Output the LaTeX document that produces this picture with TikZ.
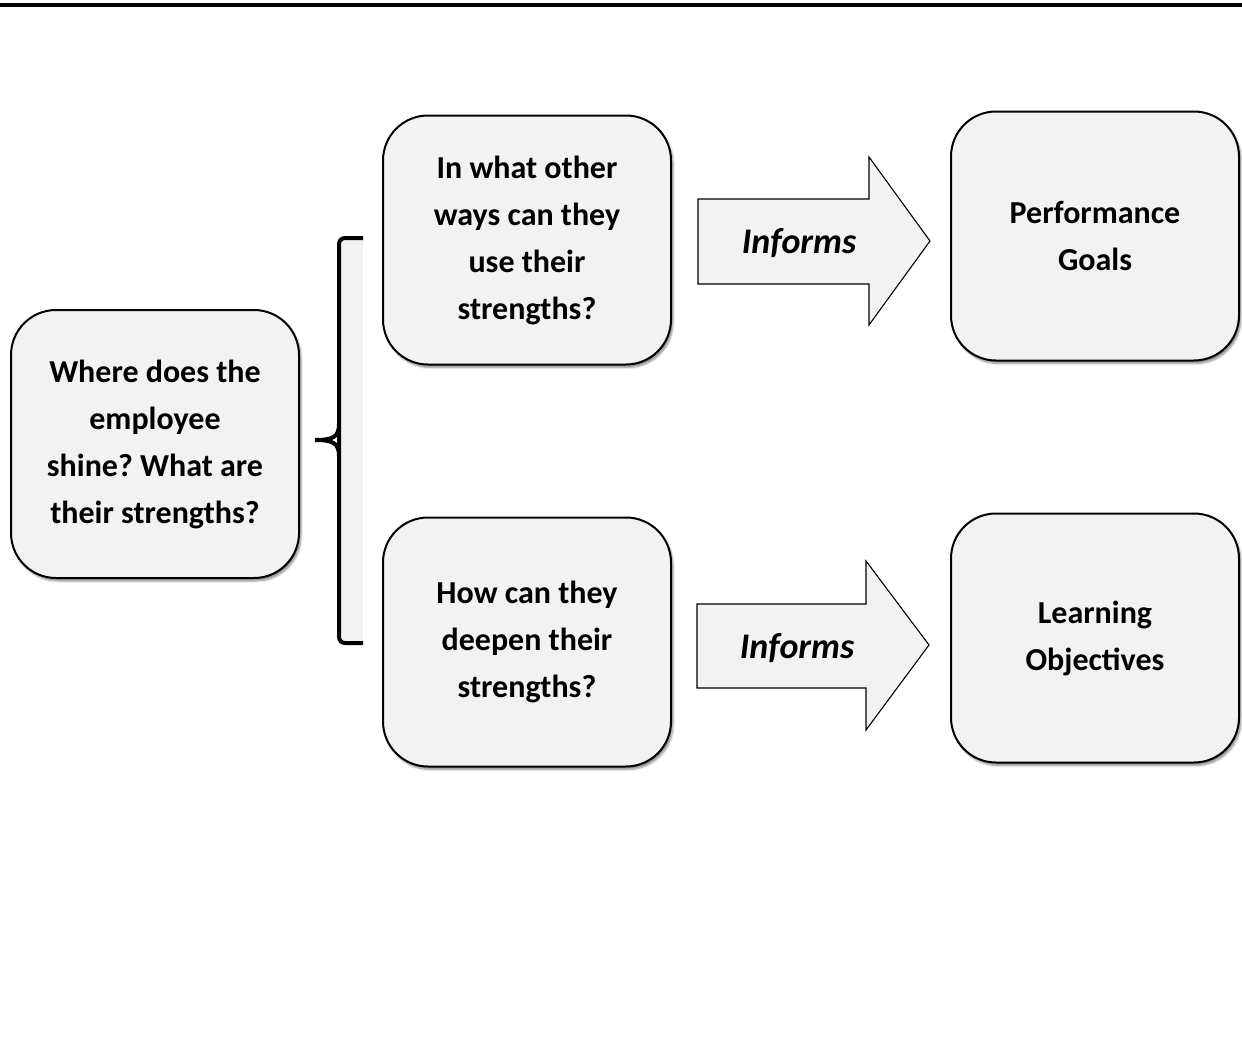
\documentclass[tikz,border=0pt]{standalone}
\usepackage{fontspec}
\setmainfont{Carlito}
\usetikzlibrary{shadows.blur}
\definecolor{boxfill}{HTML}{F2F2F2}
\frenchspacing
\begin{document}
\begin{tikzpicture}[x=1pt,y=-1pt,
  box/.style={draw=black, line width=2pt, fill=boxfill, rounded corners=45pt,
    minimum width=288pt, minimum height=249pt, align=center,
    font=\bfseries\fontsize{32}{47}\selectfont,
    blur shadow={shadow xshift=2pt, shadow yshift=-3pt, shadow blur steps=6, shadow opacity=45}},
  arrowshape/.style={draw=black, line width=1.1pt, fill=boxfill},
  informs/.style={font=\bfseries\itshape\fontsize{36}{40}\selectfont},
  bracket/.style={line width=4pt}]
\useasboundingbox (0,0) rectangle (1242,1055);
\draw[line width=3.5pt] (0,5) -- (1242,5);
% boxes
\node[box, minimum height=268pt] (src) at (155,444) {Where does the\\employee\\shine? What are\\their strengths?};
\node[box] (q1) at (527,240) {In what other\\ways can they\\use their\\strengths?};
\node[box] (q2) at (527,642) {How can they\\deepen their\\strengths?};
\node[box] (g1) at (1095,236) {Performance\\Goals};
\node[box] (g2) at (1095,638) {Learning\\Objectives};
% block arrows
\path[arrowshape] (698,199) -- (869,199) -- (869,157) -- (930,241) -- (869,325) -- (869,284) -- (698,284) -- cycle;
\node[informs] (inf1) at (799,243) {Informs};
\path[arrowshape] (697,604) -- (866,604) -- (866,561) -- (929,645) -- (866,730) -- (866,688) -- (697,688) -- cycle;
\node[informs] (inf2) at (797,648) {Informs};
% bracket
\fill[boxfill] (339,237) rectangle (363,643);
\draw[bracket, rounded corners=6pt] (363,238) -| (339,643) -- (363,643);
\draw[bracket] (315,440) .. controls (333,440) and (339,437) .. (339,424);
\draw[bracket] (315,440) .. controls (333,440) and (339,443) .. (339,456);
\end{tikzpicture}
\end{document}
